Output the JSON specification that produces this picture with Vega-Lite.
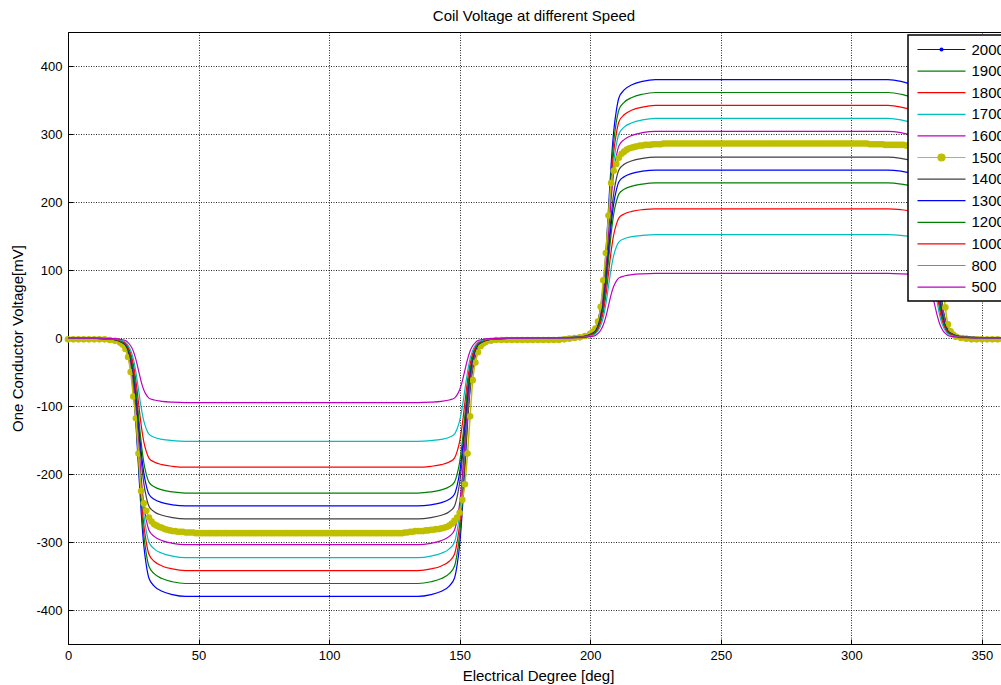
{
 "$schema": "https://vega.github.io/schema/vega-lite/v6.json",
 "width": 940,
 "height": 612,
 "autosize": {"type": "none"},
 "padding": {"left": 68, "top": 32, "right": 0, "bottom": 41},
 "background": "white",
 "config": {
  "view": {"stroke": "black", "strokeWidth": 1},
  "font": "Liberation Sans",
  "axis": {"domainColor": "#000", "tickColor": "#000", "tickSize": -5, "labelFontSize": 13, "labelColor": "#000", "labelFont": "Liberation Sans", "titleFontSize": 15, "titleFontWeight": "normal", "titleColor": "#000", "titleFont": "Liberation Sans", "gridColor": "#000", "gridDash": [1, 1.5], "gridOpacity": 0.85, "labelFlush": false}
 },
 "title": {"text": "Coil Voltage at different Speed", "fontSize": 15, "fontWeight": "normal", "color": "black", "font": "Liberation Sans", "offset": 8, "dx": -4},
 "datasets": {
  "main": [
   {"x":0,"2000":0,"1900":0,"1800":0,"1700":0,"1600":0,"1400":0,"1300":0,"1200":0,"1000":0,"800":0,"500":0},
   {"x":10,"2000":-0.8,"1900":-0.7,"1800":-0.7,"1700":-0.6,"1600":-0.6,"1400":-0.5,"1300":-0.5,"1200":-0.5,"1000":-0.4,"800":-0.3,"500":-0.2},
   {"x":15,"2000":-1.9,"1900":-1.8,"1800":-1.7,"1700":-1.6,"1600":-1.5,"1400":-1.3,"1300":-1.2,"1200":-1.1,"1000":-1,"800":-0.8,"500":-0.5},
   {"x":18,"2000":-3.8,"1900":-3.6,"1800":-3.4,"1700":-3.2,"1600":-3,"1400":-2.7,"1300":-2.5,"1200":-2.3,"1000":-1.9,"800":-1.5,"500":-1},
   {"x":20,"2000":-7.6,"1900":-7.2,"1800":-6.8,"1700":-6.5,"1600":-6.1,"1400":-5.3,"1300":-4.9,"1200":-4.6,"1000":-3.8,"800":-3,"500":-1.9},
   {"x":22,"2000":-15.2,"1900":-14.4,"1800":-13.7,"1700":-12.9,"1600":-12.2,"1400":-10.6,"1300":-9.9,"1200":-9.1,"1000":-7.6,"800":-6.1,"500":-3.8},
   {"x":23,"2000":-26.6,"1900":-25.3,"1800":-23.9,"1700":-22.6,"1600":-21.3,"1400":-18.6,"1300":-17.3,"1200":-16,"1000":-13.3,"800":-10.6,"500":-6.7},
   {"x":24,"2000":-45.6,"1900":-43.3,"1800":-41,"1700":-38.8,"1600":-36.5,"1400":-31.9,"1300":-29.6,"1200":-27.4,"1000":-22.8,"800":-18.2,"500":-11.4},
   {"x":25,"2000":-76,"1900":-72.2,"1800":-68.4,"1700":-64.6,"1600":-60.8,"1400":-53.2,"1300":-49.4,"1200":-45.6,"1000":-38,"800":-30.4,"500":-19},
   {"x":26,"2000":-125.4,"1900":-119.1,"1800":-112.9,"1700":-106.6,"1600":-100.3,"1400":-87.8,"1300":-81.5,"1200":-75.2,"1000":-62.7,"800":-50.2,"500":-31.4},
   {"x":27,"2000":-190,"1900":-180.5,"1800":-171,"1700":-161.5,"1600":-152,"1400":-133,"1300":-123.5,"1200":-114,"1000":-95,"800":-76,"500":-47.5},
   {"x":28,"2000":-254.6,"1900":-241.9,"1800":-229.1,"1700":-216.4,"1600":-203.7,"1400":-178.2,"1300":-165.5,"1200":-152.8,"1000":-127.3,"800":-101.8,"500":-63.7},
   {"x":29,"2000":-304,"1900":-288.8,"1800":-273.6,"1700":-258.4,"1600":-243.2,"1400":-212.8,"1300":-197.6,"1200":-182.4,"1000":-152,"800":-121.6,"500":-76},
   {"x":30,"2000":-334.4,"1900":-317.7,"1800":-301,"1700":-284.2,"1600":-267.5,"1400":-234.1,"1300":-217.4,"1200":-200.6,"1000":-167.2,"800":-133.8,"500":-83.6},
   {"x":31,"2000":-353.4,"1900":-335.7,"1800":-318.1,"1700":-300.4,"1600":-282.7,"1400":-247.4,"1300":-229.7,"1200":-212,"1000":-176.7,"800":-141.4,"500":-88.4},
   {"x":33,"2000":-364.8,"1900":-346.6,"1800":-328.3,"1700":-310.1,"1600":-291.8,"1400":-255.4,"1300":-237.1,"1200":-218.9,"1000":-182.4,"800":-145.9,"500":-91.2},
   {"x":36,"2000":-372.4,"1900":-353.8,"1800":-335.2,"1700":-316.5,"1600":-297.9,"1400":-260.7,"1300":-242.1,"1200":-223.4,"1000":-186.2,"800":-149,"500":-93.1},
   {"x":40,"2000":-377.3,"1900":-358.5,"1800":-339.6,"1700":-320.7,"1600":-301.9,"1400":-264.1,"1300":-245.3,"1200":-226.4,"1000":-188.7,"800":-150.9,"500":-94.3},
   {"x":45,"2000":-380,"1900":-361,"1800":-342,"1700":-323,"1600":-304,"1400":-266,"1300":-247,"1200":-228,"1000":-190,"800":-152,"500":-95},
   {"x":90,"2000":-380,"1900":-361,"1800":-342,"1700":-323,"1600":-304,"1400":-266,"1300":-247,"1200":-228,"1000":-190,"800":-152,"500":-95},
   {"x":134,"2000":-380,"1900":-361,"1800":-342,"1700":-323,"1600":-304,"1400":-266,"1300":-247,"1200":-228,"1000":-190,"800":-152,"500":-95},
   {"x":139,"2000":-377.3,"1900":-358.5,"1800":-339.6,"1700":-320.7,"1600":-301.9,"1400":-264.1,"1300":-245.3,"1200":-226.4,"1000":-188.7,"800":-150.9,"500":-94.3},
   {"x":143,"2000":-372.4,"1900":-353.8,"1800":-335.2,"1700":-316.5,"1600":-297.9,"1400":-260.7,"1300":-242.1,"1200":-223.4,"1000":-186.2,"800":-149,"500":-93.1},
   {"x":146,"2000":-364.8,"1900":-346.6,"1800":-328.3,"1700":-310.1,"1600":-291.8,"1400":-255.4,"1300":-237.1,"1200":-218.9,"1000":-182.4,"800":-145.9,"500":-91.2},
   {"x":148,"2000":-353.4,"1900":-335.7,"1800":-318.1,"1700":-300.4,"1600":-282.7,"1400":-247.4,"1300":-229.7,"1200":-212,"1000":-176.7,"800":-141.4,"500":-88.4},
   {"x":149,"2000":-334.4,"1900":-317.7,"1800":-301,"1700":-284.2,"1600":-267.5,"1400":-234.1,"1300":-217.4,"1200":-200.6,"1000":-167.2,"800":-133.8,"500":-83.6},
   {"x":150,"2000":-304,"1900":-288.8,"1800":-273.6,"1700":-258.4,"1600":-243.2,"1400":-212.8,"1300":-197.6,"1200":-182.4,"1000":-152,"800":-121.6,"500":-76},
   {"x":151,"2000":-254.6,"1900":-241.9,"1800":-229.1,"1700":-216.4,"1600":-203.7,"1400":-178.2,"1300":-165.5,"1200":-152.8,"1000":-127.3,"800":-101.8,"500":-63.7},
   {"x":152,"2000":-190,"1900":-180.5,"1800":-171,"1700":-161.5,"1600":-152,"1400":-133,"1300":-123.5,"1200":-114,"1000":-95,"800":-76,"500":-47.5},
   {"x":153,"2000":-125.4,"1900":-119.1,"1800":-112.9,"1700":-106.6,"1600":-100.3,"1400":-87.8,"1300":-81.5,"1200":-75.2,"1000":-62.7,"800":-50.2,"500":-31.4},
   {"x":154,"2000":-76,"1900":-72.2,"1800":-68.4,"1700":-64.6,"1600":-60.8,"1400":-53.2,"1300":-49.4,"1200":-45.6,"1000":-38,"800":-30.4,"500":-19},
   {"x":155,"2000":-45.6,"1900":-43.3,"1800":-41,"1700":-38.8,"1600":-36.5,"1400":-31.9,"1300":-29.6,"1200":-27.4,"1000":-22.8,"800":-18.2,"500":-11.4},
   {"x":156,"2000":-26.6,"1900":-25.3,"1800":-23.9,"1700":-22.6,"1600":-21.3,"1400":-18.6,"1300":-17.3,"1200":-16,"1000":-13.3,"800":-10.6,"500":-6.7},
   {"x":157,"2000":-15.2,"1900":-14.4,"1800":-13.7,"1700":-12.9,"1600":-12.2,"1400":-10.6,"1300":-9.9,"1200":-9.1,"1000":-7.6,"800":-6.1,"500":-3.8},
   {"x":159,"2000":-7.6,"1900":-7.2,"1800":-6.8,"1700":-6.5,"1600":-6.1,"1400":-5.3,"1300":-4.9,"1200":-4.6,"1000":-3.8,"800":-3,"500":-1.9},
   {"x":161,"2000":-3.8,"1900":-3.6,"1800":-3.4,"1700":-3.2,"1600":-3,"1400":-2.7,"1300":-2.5,"1200":-2.3,"1000":-1.9,"800":-1.5,"500":-1},
   {"x":164,"2000":-1.9,"1900":-1.8,"1800":-1.7,"1700":-1.6,"1600":-1.5,"1400":-1.3,"1300":-1.2,"1200":-1.1,"1000":-1,"800":-0.8,"500":-0.5},
   {"x":169,"2000":-0.8,"1900":-0.7,"1800":-0.7,"1700":-0.6,"1600":-0.6,"1400":-0.5,"1300":-0.5,"1200":-0.5,"1000":-0.4,"800":-0.3,"500":-0.2},
   {"x":180,"2000":0,"1900":0,"1800":0,"1700":0,"1600":0,"1400":0,"1300":0,"1200":0,"1000":0,"800":0,"500":0},
   {"x":190,"2000":0.8,"1900":0.7,"1800":0.7,"1700":0.6,"1600":0.6,"1400":0.5,"1300":0.5,"1200":0.5,"1000":0.4,"800":0.3,"500":0.2},
   {"x":195,"2000":1.9,"1900":1.8,"1800":1.7,"1700":1.6,"1600":1.5,"1400":1.3,"1300":1.2,"1200":1.1,"1000":1,"800":0.8,"500":0.5},
   {"x":198,"2000":3.8,"1900":3.6,"1800":3.4,"1700":3.2,"1600":3,"1400":2.7,"1300":2.5,"1200":2.3,"1000":1.9,"800":1.5,"500":1},
   {"x":200,"2000":7.6,"1900":7.2,"1800":6.8,"1700":6.5,"1600":6.1,"1400":5.3,"1300":4.9,"1200":4.6,"1000":3.8,"800":3,"500":1.9},
   {"x":202,"2000":15.2,"1900":14.4,"1800":13.7,"1700":12.9,"1600":12.2,"1400":10.6,"1300":9.9,"1200":9.1,"1000":7.6,"800":6.1,"500":3.8},
   {"x":203,"2000":26.6,"1900":25.3,"1800":23.9,"1700":22.6,"1600":21.3,"1400":18.6,"1300":17.3,"1200":16,"1000":13.3,"800":10.6,"500":6.7},
   {"x":204,"2000":45.6,"1900":43.3,"1800":41,"1700":38.8,"1600":36.5,"1400":31.9,"1300":29.6,"1200":27.4,"1000":22.8,"800":18.2,"500":11.4},
   {"x":205,"2000":76,"1900":72.2,"1800":68.4,"1700":64.6,"1600":60.8,"1400":53.2,"1300":49.4,"1200":45.6,"1000":38,"800":30.4,"500":19},
   {"x":206,"2000":125.4,"1900":119.1,"1800":112.9,"1700":106.6,"1600":100.3,"1400":87.8,"1300":81.5,"1200":75.2,"1000":62.7,"800":50.2,"500":31.4},
   {"x":207,"2000":190,"1900":180.5,"1800":171,"1700":161.5,"1600":152,"1400":133,"1300":123.5,"1200":114,"1000":95,"800":76,"500":47.5},
   {"x":208,"2000":254.6,"1900":241.9,"1800":229.1,"1700":216.4,"1600":203.7,"1400":178.2,"1300":165.5,"1200":152.8,"1000":127.3,"800":101.8,"500":63.7},
   {"x":209,"2000":304,"1900":288.8,"1800":273.6,"1700":258.4,"1600":243.2,"1400":212.8,"1300":197.6,"1200":182.4,"1000":152,"800":121.6,"500":76},
   {"x":210,"2000":334.4,"1900":317.7,"1800":301,"1700":284.2,"1600":267.5,"1400":234.1,"1300":217.4,"1200":200.6,"1000":167.2,"800":133.8,"500":83.6},
   {"x":211,"2000":353.4,"1900":335.7,"1800":318.1,"1700":300.4,"1600":282.7,"1400":247.4,"1300":229.7,"1200":212,"1000":176.7,"800":141.4,"500":88.4},
   {"x":213,"2000":364.8,"1900":346.6,"1800":328.3,"1700":310.1,"1600":291.8,"1400":255.4,"1300":237.1,"1200":218.9,"1000":182.4,"800":145.9,"500":91.2},
   {"x":216,"2000":372.4,"1900":353.8,"1800":335.2,"1700":316.5,"1600":297.9,"1400":260.7,"1300":242.1,"1200":223.4,"1000":186.2,"800":149,"500":93.1},
   {"x":220,"2000":377.3,"1900":358.5,"1800":339.6,"1700":320.7,"1600":301.9,"1400":264.1,"1300":245.3,"1200":226.4,"1000":188.7,"800":150.9,"500":94.3},
   {"x":225,"2000":380,"1900":361,"1800":342,"1700":323,"1600":304,"1400":266,"1300":247,"1200":228,"1000":190,"800":152,"500":95},
   {"x":270,"2000":380,"1900":361,"1800":342,"1700":323,"1600":304,"1400":266,"1300":247,"1200":228,"1000":190,"800":152,"500":95},
   {"x":314,"2000":380,"1900":361,"1800":342,"1700":323,"1600":304,"1400":266,"1300":247,"1200":228,"1000":190,"800":152,"500":95},
   {"x":319,"2000":377.3,"1900":358.5,"1800":339.6,"1700":320.7,"1600":301.9,"1400":264.1,"1300":245.3,"1200":226.4,"1000":188.7,"800":150.9,"500":94.3},
   {"x":323,"2000":372.4,"1900":353.8,"1800":335.2,"1700":316.5,"1600":297.9,"1400":260.7,"1300":242.1,"1200":223.4,"1000":186.2,"800":149,"500":93.1},
   {"x":326,"2000":364.8,"1900":346.6,"1800":328.3,"1700":310.1,"1600":291.8,"1400":255.4,"1300":237.1,"1200":218.9,"1000":182.4,"800":145.9,"500":91.2},
   {"x":328,"2000":353.4,"1900":335.7,"1800":318.1,"1700":300.4,"1600":282.7,"1400":247.4,"1300":229.7,"1200":212,"1000":176.7,"800":141.4,"500":88.4},
   {"x":329,"2000":334.4,"1900":317.7,"1800":301,"1700":284.2,"1600":267.5,"1400":234.1,"1300":217.4,"1200":200.6,"1000":167.2,"800":133.8,"500":83.6},
   {"x":330,"2000":304,"1900":288.8,"1800":273.6,"1700":258.4,"1600":243.2,"1400":212.8,"1300":197.6,"1200":182.4,"1000":152,"800":121.6,"500":76},
   {"x":331,"2000":254.6,"1900":241.9,"1800":229.1,"1700":216.4,"1600":203.7,"1400":178.2,"1300":165.5,"1200":152.8,"1000":127.3,"800":101.8,"500":63.7},
   {"x":332,"2000":190,"1900":180.5,"1800":171,"1700":161.5,"1600":152,"1400":133,"1300":123.5,"1200":114,"1000":95,"800":76,"500":47.5},
   {"x":333,"2000":125.4,"1900":119.1,"1800":112.9,"1700":106.6,"1600":100.3,"1400":87.8,"1300":81.5,"1200":75.2,"1000":62.7,"800":50.2,"500":31.4},
   {"x":334,"2000":76,"1900":72.2,"1800":68.4,"1700":64.6,"1600":60.8,"1400":53.2,"1300":49.4,"1200":45.6,"1000":38,"800":30.4,"500":19},
   {"x":335,"2000":45.6,"1900":43.3,"1800":41,"1700":38.8,"1600":36.5,"1400":31.9,"1300":29.6,"1200":27.4,"1000":22.8,"800":18.2,"500":11.4},
   {"x":336,"2000":26.6,"1900":25.3,"1800":23.9,"1700":22.6,"1600":21.3,"1400":18.6,"1300":17.3,"1200":16,"1000":13.3,"800":10.6,"500":6.7},
   {"x":337,"2000":15.2,"1900":14.4,"1800":13.7,"1700":12.9,"1600":12.2,"1400":10.6,"1300":9.9,"1200":9.1,"1000":7.6,"800":6.1,"500":3.8},
   {"x":339,"2000":7.6,"1900":7.2,"1800":6.8,"1700":6.5,"1600":6.1,"1400":5.3,"1300":4.9,"1200":4.6,"1000":3.8,"800":3,"500":1.9},
   {"x":341,"2000":3.8,"1900":3.6,"1800":3.4,"1700":3.2,"1600":3,"1400":2.7,"1300":2.5,"1200":2.3,"1000":1.9,"800":1.5,"500":1},
   {"x":344,"2000":1.9,"1900":1.8,"1800":1.7,"1700":1.6,"1600":1.5,"1400":1.3,"1300":1.2,"1200":1.1,"1000":1,"800":0.8,"500":0.5},
   {"x":349,"2000":0.8,"1900":0.7,"1800":0.7,"1700":0.6,"1600":0.6,"1400":0.5,"1300":0.5,"1200":0.5,"1000":0.4,"800":0.3,"500":0.2},
   {"x":360,"2000":0,"1900":0,"1800":0,"1700":0,"1600":0,"1400":0,"1300":0,"1200":0,"1000":0,"800":0,"500":0}
  ],
  "y1500": [
   {"x":0,"1500":-2},{"x":2,"1500":-2},{"x":4,"1500":-2},{"x":6,"1500":-2},{"x":8,"1500":-2},{"x":10,"1500":-2},{"x":12,"1500":-2},{"x":14,"1500":-2},{"x":16,"1500":-3},{"x":18,"1500":-4},
   {"x":20,"1500":-7},{"x":21,"1500":-10},{"x":22,"1500":-16},{"x":23,"1500":-28},{"x":24,"1500":-50},{"x":25,"1500":-86},{"x":26,"1500":-118},{"x":27,"1500":-170},{"x":28,"1500":-225},{"x":29,"1500":-243},
   {"x":30,"1500":-254},{"x":31,"1500":-264},{"x":32,"1500":-270},{"x":33,"1500":-274},{"x":34,"1500":-276},{"x":35,"1500":-278},{"x":36,"1500":-279},{"x":37,"1500":-281},{"x":38,"1500":-282},{"x":39,"1500":-283},{"x":40,"1500":-284},{"x":41,"1500":-284},{"x":42,"1500":-285},{"x":43,"1500":-285},{"x":44,"1500":-285},{"x":45,"1500":-286},{"x":46,"1500":-286},{"x":47,"1500":-286},{"x":48,"1500":-286},{"x":49,"1500":-287},
   {"x":50,"1500":-287},{"x":51,"1500":-287},{"x":52,"1500":-287},{"x":53,"1500":-287},{"x":54,"1500":-287},{"x":55,"1500":-287},{"x":56,"1500":-287},{"x":57,"1500":-287},{"x":58,"1500":-287},{"x":59,"1500":-287},
   {"x":60,"1500":-287},{"x":61,"1500":-287},{"x":62,"1500":-287},{"x":63,"1500":-287},{"x":64,"1500":-287},{"x":65,"1500":-287},{"x":66,"1500":-287},{"x":67,"1500":-287},{"x":68,"1500":-287},{"x":69,"1500":-287},
   {"x":70,"1500":-287},{"x":71,"1500":-287},{"x":72,"1500":-287},{"x":73,"1500":-287},{"x":74,"1500":-287},{"x":75,"1500":-287},{"x":76,"1500":-287},{"x":77,"1500":-287},{"x":78,"1500":-287},{"x":79,"1500":-287},
   {"x":80,"1500":-287},{"x":81,"1500":-287},{"x":82,"1500":-287},{"x":83,"1500":-287},{"x":84,"1500":-287},{"x":85,"1500":-287},{"x":86,"1500":-287},{"x":87,"1500":-287},{"x":88,"1500":-287},{"x":89,"1500":-287},
   {"x":90,"1500":-287},{"x":91,"1500":-287},{"x":92,"1500":-287},{"x":93,"1500":-287},{"x":94,"1500":-287},{"x":95,"1500":-287},{"x":96,"1500":-287},{"x":97,"1500":-287},{"x":98,"1500":-287},{"x":99,"1500":-287},
   {"x":100,"1500":-287},{"x":101,"1500":-287},{"x":102,"1500":-287},{"x":103,"1500":-287},{"x":104,"1500":-287},{"x":105,"1500":-287},{"x":106,"1500":-287},{"x":107,"1500":-287},{"x":108,"1500":-287},{"x":109,"1500":-287},
   {"x":110,"1500":-287},{"x":111,"1500":-287},{"x":112,"1500":-287},{"x":113,"1500":-287},{"x":114,"1500":-287},{"x":115,"1500":-287},{"x":116,"1500":-287},{"x":117,"1500":-287},{"x":118,"1500":-287},{"x":119,"1500":-287},
   {"x":120,"1500":-287},{"x":121,"1500":-287},{"x":122,"1500":-287},{"x":123,"1500":-287},{"x":124,"1500":-287},{"x":125,"1500":-287},{"x":126,"1500":-287},{"x":127,"1500":-287},{"x":128,"1500":-287},{"x":129,"1500":-286},
   {"x":130,"1500":-286},{"x":131,"1500":-285},{"x":132,"1500":-285},{"x":133,"1500":-284},{"x":134,"1500":-284},{"x":135,"1500":-284},{"x":136,"1500":-284},{"x":137,"1500":-283},{"x":138,"1500":-283},{"x":139,"1500":-282},{"x":140,"1500":-282},{"x":141,"1500":-281},{"x":142,"1500":-281},{"x":143,"1500":-280},{"x":144,"1500":-279},{"x":145,"1500":-278},{"x":146,"1500":-276},{"x":147,"1500":-273},
   {"x":148,"1500":-269},{"x":149,"1500":-264},{"x":150,"1500":-257},{"x":151,"1500":-238},{"x":152,"1500":-215},{"x":153,"1500":-170},{"x":154,"1500":-115},{"x":155,"1500":-62},{"x":156,"1500":-36},{"x":157,"1500":-21},
   {"x":158,"1500":-12},{"x":159,"1500":-8},{"x":160,"1500":-6},{"x":162,"1500":-4},{"x":164,"1500":-3},{"x":166,"1500":-3},{"x":168,"1500":-3},{"x":170,"1500":-3},{"x":172,"1500":-3},{"x":174,"1500":-3},
   {"x":176,"1500":-3},{"x":178,"1500":-3},{"x":180,"1500":-3},{"x":182,"1500":-3},{"x":184,"1500":-3},{"x":186,"1500":-3},{"x":188,"1500":-3},{"x":190,"1500":-2},{"x":192,"1500":-1},{"x":194,"1500":0},
   {"x":196,"1500":1},{"x":198,"1500":3},{"x":200,"1500":6},{"x":201,"1500":9},{"x":202,"1500":14},{"x":203,"1500":24},{"x":204,"1500":46},{"x":205,"1500":85},{"x":206,"1500":125},{"x":207,"1500":180},
   {"x":208,"1500":228},{"x":209,"1500":246},{"x":210,"1500":256},{"x":211,"1500":265},{"x":212,"1500":271},{"x":213,"1500":274},{"x":214,"1500":277},{"x":215,"1500":279},{"x":216,"1500":280},{"x":217,"1500":281},{"x":218,"1500":282},{"x":219,"1500":283},{"x":220,"1500":283},{"x":221,"1500":284},{"x":222,"1500":284},{"x":223,"1500":284},
   {"x":224,"1500":285},{"x":225,"1500":285},{"x":226,"1500":285},{"x":227,"1500":285},{"x":228,"1500":286},{"x":229,"1500":286},{"x":230,"1500":286},{"x":231,"1500":286},{"x":232,"1500":286},{"x":233,"1500":286},{"x":234,"1500":286},{"x":235,"1500":286},{"x":236,"1500":286},{"x":237,"1500":286},{"x":238,"1500":286},{"x":239,"1500":286},
   {"x":240,"1500":286},{"x":241,"1500":286},{"x":242,"1500":286},{"x":243,"1500":286},{"x":244,"1500":286},{"x":245,"1500":286},{"x":246,"1500":286},{"x":247,"1500":286},{"x":248,"1500":286},{"x":249,"1500":286},
   {"x":250,"1500":286},{"x":251,"1500":286},{"x":252,"1500":286},{"x":253,"1500":286},{"x":254,"1500":286},{"x":255,"1500":286},{"x":256,"1500":286},{"x":257,"1500":286},{"x":258,"1500":286},{"x":259,"1500":286},
   {"x":260,"1500":286},{"x":261,"1500":286},{"x":262,"1500":286},{"x":263,"1500":286},{"x":264,"1500":286},{"x":265,"1500":286},{"x":266,"1500":286},{"x":267,"1500":286},{"x":268,"1500":286},{"x":269,"1500":286},
   {"x":270,"1500":286},{"x":271,"1500":286},{"x":272,"1500":286},{"x":273,"1500":286},{"x":274,"1500":286},{"x":275,"1500":286},{"x":276,"1500":286},{"x":277,"1500":286},{"x":278,"1500":286},{"x":279,"1500":286},
   {"x":280,"1500":286},{"x":281,"1500":286},{"x":282,"1500":286},{"x":283,"1500":286},{"x":284,"1500":286},{"x":285,"1500":286},{"x":286,"1500":286},{"x":287,"1500":286},{"x":288,"1500":286},{"x":289,"1500":286},
   {"x":290,"1500":286},{"x":291,"1500":286},{"x":292,"1500":286},{"x":293,"1500":286},{"x":294,"1500":286},{"x":295,"1500":286},{"x":296,"1500":286},{"x":297,"1500":286},{"x":298,"1500":286},{"x":299,"1500":286},
   {"x":300,"1500":286},{"x":301,"1500":286},{"x":302,"1500":286},{"x":303,"1500":286},{"x":304,"1500":286},{"x":305,"1500":286},{"x":306,"1500":286},{"x":307,"1500":285},{"x":308,"1500":285},{"x":309,"1500":285},{"x":310,"1500":285},{"x":311,"1500":285},{"x":312,"1500":285},{"x":313,"1500":284},{"x":314,"1500":284},{"x":315,"1500":284},{"x":316,"1500":284},{"x":317,"1500":284},{"x":318,"1500":284},{"x":319,"1500":284},{"x":320,"1500":284},{"x":321,"1500":283},{"x":322,"1500":283},
   {"x":323,"1500":282},{"x":324,"1500":282},{"x":325,"1500":281},{"x":326,"1500":280},{"x":327,"1500":277},{"x":328,"1500":273},{"x":329,"1500":268},{"x":330,"1500":262},{"x":331,"1500":252},{"x":332,"1500":235},{"x":333,"1500":205},{"x":334,"1500":150},
   {"x":335,"1500":85},{"x":336,"1500":45},{"x":337,"1500":20},{"x":338,"1500":10},{"x":339,"1500":5},{"x":340,"1500":2},{"x":342,"1500":0},{"x":344,"1500":-1},{"x":346,"1500":-2},{"x":348,"1500":-2},
   {"x":350,"1500":-2},{"x":352,"1500":-2},{"x":354,"1500":-2},{"x":356,"1500":-2},{"x":358,"1500":-2},{"x":360,"1500":-2}
  ]
 },
 "encoding": {
  "x": {"field": "x", "type": "quantitative", "scale": {"domain": [0, 360], "nice": false, "zero": false},
        "axis": {"values": [0, 50, 100, 150, 200, 250, 300, 350], "title": "Electrical Degree [deg]", "grid": true, "labelPadding": 10, "titlePadding": 6, "labelExpr": "'' + datum.value"}},
  "y": {"field": "v", "type": "quantitative", "scale": {"domain": [-450, 450], "nice": false, "zero": false},
        "axis": {"values": [-400, -300, -200, -100, 0, 100, 200, 300, 400], "title": "One Conductor Voltage[mV]", "grid": true, "labelPadding": 11, "titlePadding": 10, "labelExpr": "'' + datum.value"}},
  "color": {"field": "speed", "type": "nominal",
   "scale": {"domain": ["2000", "1900", "1800", "1700", "1600", "1500", "1400", "1300", "1200", "1000", "800", "500"],
             "range": ["#0000ff", "#008000", "#ff0000", "#00bfbf", "#bf00bf", "#bfbf00", "#404040", "#0000ff", "#008000", "#ff0000", "#00bfbf", "#bf00bf"]},
   "legend": {"orient": "none", "legendX": 840, "legendY": 3, "title": null, "fillColor": "white", "strokeColor": "black", "padding": 5.5, "cornerRadius": 0,
     "symbolType": "M-3,0L3,0", "symbolSize": 256, "symbolStrokeWidth": 1.2, "symbolOffset": 19, "labelOffset": 21, "rowPadding": 4.6,
     "labelFontSize": 15, "labelFont": "Liberation Sans", "labelColor": "black",
     "encode": {
       "symbols": {"update": {
         "shape": {"signal": "datum.value === '1500' ? 'M-3,0L3,0M-0.44,0A0.44,0.44,0,1,0,0.44,0A0.44,0.44,0,1,0,-0.44,0Z' : (datum.value === '2000' ? 'M-3,0L3,0M-0.18,0A0.18,0.18,0,1,0,0.18,0A0.18,0.18,0,1,0,-0.18,0Z' : 'M-3,0L3,0')"},
         "fill": {"signal": "datum.value === '1500' || datum.value === '2000' ? scale('color', datum.value) : 'transparent'"},
         "stroke": {"signal": "scale('color', datum.value)"},
         "fillOpacity": {"value": 1}, "strokeOpacity": {"value": 1}, "opacity": {"value": 1}}},
       "legend": {"update": {"strokeWidth": {"value": 1.5}}}
     }}}
 },
 "layer": [
  {"data": {"name": "main"}, "transform": [{"fold": ["2000", "1900", "1800", "1700", "1600"], "as": ["speed", "v"]}],
   "mark": {"type": "line", "interpolate": "monotone", "strokeWidth": 1.2}},
  {"data": {"name": "y1500"}, "transform": [{"fold": ["1500"], "as": ["speed", "v"]}],
   "mark": {"type": "line", "interpolate": "monotone", "strokeWidth": 1.5}},
  {"data": {"name": "y1500"}, "transform": [{"fold": ["1500"], "as": ["speed", "v"]}],
   "mark": {"type": "point", "filled": true, "size": 44, "opacity": 1, "strokeWidth": 0}},
  {"data": {"name": "main"}, "transform": [{"fold": ["1400", "1300", "1200", "1000", "800", "500"], "as": ["speed", "v"]}],
   "mark": {"type": "line", "interpolate": "monotone", "strokeWidth": 1.2}}
 ]
}
